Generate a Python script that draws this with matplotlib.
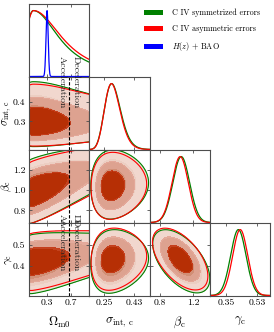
"""Triangle plot: C IV (symmetrized / asymmetric errors) and H(z)+BAO constraints."""

import matplotlib
matplotlib.use("Agg")

import matplotlib.pyplot as plt
import numpy as np
from matplotlib.patches import Patch

plt.rcParams["font.family"] = "serif"
plt.rcParams["font.serif"] = ["cmr10", "DejaVu Serif"]
plt.rcParams["mathtext.fontset"] = "cm"
plt.rcParams["axes.formatter.use_mathtext"] = True

# ── axes set-up ──────────────────────────────────────────────────
axis_labels = [r"$\Omega_{\rm m0}$", r"$\sigma_{\rm int,\,c}$",
               r"$\beta_{\rm c}$", r"$\gamma_{\rm c}$"]
ranges = [(0.0, 1.0), (0.158, 0.524), (0.68, 1.40), (0.256, 0.608)]
xticks = [[0.3, 0.7], [0.25, 0.43], [0.8, 1.2], [0.35, 0.53]]
xtick_labels = [["0.3", "0.7"], ["0.25", "0.43"], ["0.8", "1.2"], ["0.35", "0.53"]]
yticks = {1: [0.3, 0.4], 2: [0.8, 1.0, 1.2], 3: [0.4, 0.5]}
ytick_labels = {1: ["0.3", "0.4"], 2: ["0.8", "1.0", "1.2"], 3: ["0.4", "0.5"]}

# ── posterior summaries ──────────────────────────────────────────
names = ["C IV symmetrized errors", "C IV asymmetric errors", r"$H(z)$ + BAO"]
line_colors = ["green", "red", "blue"]

# Omega_m0 (C IV only): peak, left gaussian width, right tail width / power
om_peak = [0.070, 0.075]
om_left = [0.135, 0.135]
om_right = [0.58, 0.64]
om_pow = [1.2, 1.2]
om_2d_sharp = 1.47            # 2D panels are more peaked in Omega_m0
om_ref = 0.35
# sigma_int,c : log-normal median and log width
sig_med = [0.302, 0.300]
sig_w = [0.165, 0.160]
# beta_c, gamma_c : gaussian
beta_mean = [1.058, 1.045]
beta_sd = [0.100, 0.097]
gam_mean = [0.422, 0.433]
gam_sd = [0.045, 0.044]
beta_slope = [0.215, 0.215]   # d beta / d Omega_m0
gam_slope = [0.045, 0.045]    # d gamma / d Omega_m0
rho_sb = [0.05, 0.05]
rho_sg = [0.10, 0.10]
rho_bg = [-0.55, -0.55]
# H(z) + BAO
hz_om_mean, hz_om_sd = 0.30, 0.018
q0_zero = 2.0 / 3.0

mass_levels = [0.997, 0.95, 0.68]
fill_colors = [["#ebe3d6", "#d2b69c", "#93561c"],     # symmetrized (under)
               ["#f3d5cc", "#e19e8e", "#c02600"]]     # asymmetric (over)
fill_alpha = [1.0, 0.8]


def om_pdf(x, i):
    d = x - om_peak[i]
    left = np.exp(-0.5 * (d / om_left[i]) ** 2)
    right = (1 + (d / om_right[i]) ** 2) ** (-om_pow[i])
    return np.where(d < 0, left, right)


def to_u(k, x, i):
    """standardised variable and jacobian for parameter k (1..3)"""
    if k == 1:
        return (np.log(x) - np.log(sig_med[i])) / sig_w[i], 1.0 / x
    if k == 2:
        return (x - beta_mean[i]) / beta_sd[i], np.ones_like(x)
    return (x - gam_mean[i]) / gam_sd[i], np.ones_like(x)


def rho(a, b, i):
    pair = {(1, 2): rho_sb, (1, 3): rho_sg, (2, 3): rho_bg}[(a, b)]
    return pair[i]


def grid_for(k):
    if k == 0:
        return np.linspace(0.0, 1.0, 260)
    if k == 1:
        return np.linspace(0.08, 0.75, 260)
    if k == 2:
        return np.linspace(0.45, 1.75, 260)
    return np.linspace(0.15, 0.75, 260)


def density2d(a, b, i):
    xa, xb = grid_for(a), grid_for(b)
    X, Y = np.meshgrid(xa, xb)
    if a == 0:
        if b == 1:
            u, j = to_u(1, Y, i)
        elif b == 2:
            u = (Y - beta_mean[i] - beta_slope[i] * (X - om_ref)) / beta_sd[i]
            j = 1.0
        else:
            u = (Y - gam_mean[i] - gam_slope[i] * (X - om_ref)) / gam_sd[i]
            j = 1.0
        P = om_pdf(X, i) ** om_2d_sharp * np.exp(-0.5 * u ** 2) * j
    else:
        u, ju = to_u(a, X, i)
        v, jv = to_u(b, Y, i)
        r = rho(a, b, i)
        P = np.exp(-0.5 / (1 - r ** 2) * (u ** 2 - 2 * r * u * v + v ** 2)) * ju * jv
    return X, Y, P


def hpd_levels(P, fracs):
    flat = np.sort(P.ravel())[::-1]
    cum = np.cumsum(flat)
    cum /= cum[-1]
    return [flat[np.searchsorted(cum, f)] for f in fracs]


def pdf1d(k, x, i):
    if k == 0:
        return om_pdf(x, i)
    u, j = to_u(k, x, i)
    return np.exp(-0.5 * u ** 2) * j


# ── figure ───────────────────────────────────────────────────────
W, H = 274, 332
fig = plt.figure(figsize=(W / 100, H / 100), dpi=100)
x0s = [29, 89.3, 149.6, 209.9]
y0s = [4, 77, 150, 223]
pw, ph = 60.3, 72.5

spine_col = "#4d4d4d"
for row in range(4):
    for col in range(row + 1):
        ax = fig.add_axes([x0s[col] / W, 1 - (y0s[row] + ph) / H, pw / W, ph / H])
        ax.set_xlim(*ranges[col])
        for s in ax.spines.values():
            s.set_color(spine_col)
            s.set_linewidth(0.8)
        ax.tick_params(direction="in", length=2.5, width=0.6, top=True, right=True,
                       labelsize=7, pad=2.5, colors=spine_col, labelcolor="black")
        ax.set_xticks(xticks[col])
        if row == 3:
            ax.set_xticklabels(xtick_labels[col])
            ax.set_xlabel(axis_labels[col], fontsize=9)
            ax.xaxis.set_label_coords(0.5, -0.27)
        else:
            ax.set_xticklabels([])

        if col == row:
            # 1D marginals
            xs = np.linspace(*ranges[col], 400)
            for i in range(2):
                p = pdf1d(col, xs, i)
                ax.plot(xs, p / p.max(), color=line_colors[i], lw=0.9)
            if col == 0:
                p = np.exp(-0.5 * ((xs - hz_om_mean) / hz_om_sd) ** 2)
                ax.plot(xs, p, color=line_colors[2], lw=0.9)
            ax.set_ylim(0, 1.1)
            ax.set_yticks([])
            ax.tick_params(left=False, right=False)
            continue

        ax.set_ylim(*ranges[row])
        ax.set_yticks(yticks[row])
        if col == 0:
            ax.set_yticklabels(ytick_labels[row])
            ax.set_ylabel(axis_labels[row], fontsize=8)
            ax.yaxis.set_label_coords(-0.245, 0.5)
        else:
            ax.set_yticklabels([])

        for i in range(2):
            X, Y, P = density2d(col, row, i)
            lv = hpd_levels(P, mass_levels)
            ax.contourf(X, Y, P, levels=lv + [P.max() * 1.01],
                        colors=fill_colors[i], alpha=fill_alpha[i])
        for i in range(2):
            X, Y, P = density2d(col, row, i)
            lv = hpd_levels(P, mass_levels)
            ax.contour(X, Y, P, levels=[lv[0]], colors=line_colors[i], linewidths=0.8)

        if col == 0:
            ax.axvline(q0_zero, color="black", ls="--", lw=0.8, dashes=(3, 1.5))
            ax.text(0.545, 0.5, "Acceleration", rotation=-90, ha="center", va="center",
                    fontsize=7, color="#222222")
            ax.text(0.775, 0.5, "Deceleration", rotation=-90, ha="center", va="center",
                    fontsize=7, color="#222222")

handles = [Patch(facecolor=c, edgecolor="none") for c in line_colors]
fig.legend(handles, names, loc="upper left", bbox_to_anchor=(144 / W, 1 - 9 / H),
           frameon=False, fontsize=5.8, handlelength=2.4, handleheight=0.6,
           handletextpad=1.1, labelspacing=0.9, borderpad=0, borderaxespad=0)

fig.savefig("out.png", dpi=100)
